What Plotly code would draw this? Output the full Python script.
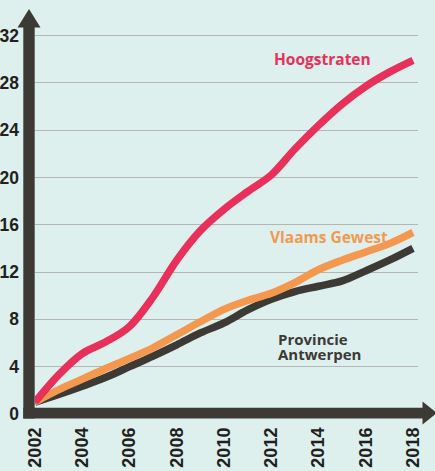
import plotly.graph_objects as go

years = list(range(2002, 2019))
hoogstraten = [1.0, 3.3, 5.1, 6.1, 7.4, 9.9, 13.0, 15.5, 17.3, 18.8, 20.2, 22.4, 24.4, 26.2, 27.7, 28.9, 29.9]
vlaams_gewest = [1.0, 2.05, 2.95, 3.85, 4.7, 5.6, 6.7, 7.8, 8.85, 9.6, 10.2, 11.1, 12.2, 13.0, 13.7, 14.4, 15.35]
provincie_antwerpen = [1.0, 1.65, 2.35, 3.1, 4.0, 4.9, 5.85, 6.85, 7.7, 8.8, 9.7, 10.35, 10.8, 11.25, 12.1, 13.0, 14.0]

x_ticks = [2002, 2004, 2006, 2008, 2010, 2012, 2014, 2016, 2018]
x_tick_labels = [str(v) for v in x_ticks]
y_ticks = [0, 4, 8, 12, 16, 20, 24, 28, 32]
y_tick_labels = [str(v) for v in y_ticks]

PINK = "#e8305a"
ORANGE = "#f4984f"
DARK = "#3d3935"
BG = "#ddf0ee"

W, H = 435, 471
ML, MR, MT, MB = 35, 17, 30, 57
PW = W - ML - MR
PH = H - MT - MB


def px(xp):
    return (xp - ML) / PW


def py(yp):
    return (H - MB - yp) / PH


fig = go.Figure()
for name, vals, col in [("Provincie Antwerpen", provincie_antwerpen, DARK),
                        ("Vlaams Gewest", vlaams_gewest, ORANGE),
                        ("Hoogstraten", hoogstraten, PINK)]:
    fig.add_trace(go.Scatter(x=years, y=vals, mode="lines", name=name,
                             line=dict(color=col, width=7.5, shape="spline", smoothing=1.0)))

shapes = [
    # y axis bar
    dict(type="rect", xref="paper", yref="paper", x0=px(23.3), x1=px(34.7), y0=py(418.5), y1=py(27),
         fillcolor=DARK, line=dict(width=0), layer="above"),
    dict(type="path", xref="paper", yref="paper",
         path=f"M {px(17.5)},{py(27.5)} L {px(40.5)},{py(27.5)} L {px(29)},{py(9)} Z",
         fillcolor=DARK, line=dict(width=0), layer="above"),
    # x axis bar
    dict(type="rect", xref="paper", yref="paper", x0=px(23.3), x1=px(423), y0=py(418.5), y1=py(407.7),
         fillcolor=DARK, line=dict(width=0), layer="above"),
    dict(type="path", xref="paper", yref="paper",
         path=f"M {px(422.5)},{py(401.5)} L {px(422.5)},{py(424.5)} L {px(437)},{py(413)} Z",
         fillcolor=DARK, line=dict(width=0), layer="above"),
]

lab_font = "Open Sans"
annotations = [
    dict(x=2014.19, y=30.05, text="<b>Hoogstraten</b>", showarrow=False, xanchor="center", yanchor="middle",
         font=dict(family=lab_font, size=15.5, color=PINK)),
    dict(x=2014.43, y=15.0, text="<b>Vlaams Gewest</b>", showarrow=False, xanchor="center", yanchor="middle",
         font=dict(family=lab_font, size=15.5, color=ORANGE)),
    dict(x=2012.2, y=6.35, text="<b>Provincie</b>", showarrow=False, xanchor="left", yanchor="middle",
         font=dict(family=lab_font, size=15, color=DARK)),
    dict(x=2012.2, y=5.1, text="<b>Antwerpen</b>", showarrow=False, xanchor="left", yanchor="middle",
         font=dict(family=lab_font, size=15, color=DARK)),
]

fig.update_layout(
    width=W, height=H,
    margin=dict(l=ML, r=MR, t=MT, b=MB, pad=0, autoexpand=False),
    paper_bgcolor=BG, plot_bgcolor=BG,
    showlegend=False,
    shapes=shapes,
    annotations=annotations,
    xaxis=dict(range=[2002, 2018 + 5 / 23.625], tickmode="array", tickvals=x_ticks, ticktext=x_tick_labels,
               tickangle=-90, showgrid=False, zeroline=False, showline=False, ticks="",
               ticklabelstandoff=9, automargin=False,
               tickfont=dict(family="Liberation Sans", size=18, color="#231f20", weight="bold")),
    yaxis=dict(range=[0, PH / 11.83], tickmode="array", tickvals=y_ticks, ticktext=y_tick_labels,
               showgrid=True, gridcolor="#b5b5b5", gridwidth=1.2, zeroline=False, showline=False, ticks="",
               ticklabelstandoff=15, automargin=False,
               tickfont=dict(family="Liberation Sans", size=17.5, color="#231f20", weight="bold")),
)

fig.write_html("out.html", config={"displayModeBar": False},
               post_script="document.body.style.margin='0';document.body.style.overflow='hidden';")
